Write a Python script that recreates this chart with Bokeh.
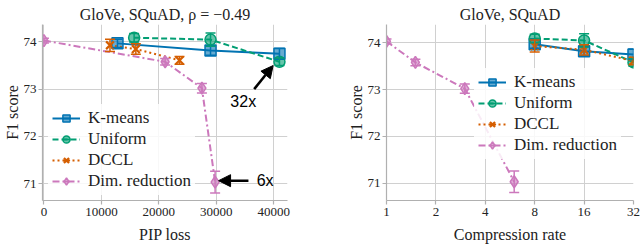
import numpy as np
from bokeh.plotting import figure
from bokeh.layouts import row
from bokeh.models import (ColumnDataSource, Whisker, TeeHead, Arrow, NormalHead, Label,
                          Legend, LegendItem, Range1d, FixedTicker, PrintfTickFormatter)
from bokeh.embed import file_html
from bokeh.resources import INLINE

# ---------------- data ----------------
methods = ["K-means", "Uniform", "DCCL", "Dim. reduction"]

kmeans_pip = [12800, 29000, 41000]
kmeans_rate = [8, 16, 32]
kmeans_f1 = [73.97, 73.82, 73.75]
kmeans_err = [0.09, 0.10, 0.11]

uniform_pip = [15700, 29000, 41000]
uniform_rate = [8, 16, 32]
uniform_f1 = [74.09, 74.05, 73.58]
uniform_err = [0.09, 0.14, 0.08]

dccl_pip = [11500, 16000, 23600]
dccl_rate = [8, 16, 32]
dccl_f1 = [73.93, 73.85, 73.61]
dccl_err = [0.13, 0.11, 0.08]

dim_pip = [0, 21100, 27500, 29800]
dim_rate = [1, 1.5, 3, 6]
dim_f1 = [74.03, 73.58, 73.02, 71.03]
dim_err = [0.05, 0.07, 0.10, 0.23]

pip_ticks = [0, 10000, 20000, 30000, 40000]
rate_ticks = [1, 2, 4, 8, 16, 32]
f1_ticks = [71, 72, 73, 74]

# annotations (left panel): text, text position, arrow start, arrow end
ann_text = ["32x", "6x"]
ann_text_x = [34700, 38500]
ann_text_y = [72.73, 71.06]
ann_arrow_x0 = [36600, 35600]
ann_arrow_y0 = [73.0, 71.06]
ann_arrow_x1 = [39900, 30400]
ann_arrow_y1 = [73.5, 71.06]

colors = ["#0173b2", "#029e73", "#d55e00", "#cc78bc"]
dashes = ["solid", "6 3", "2 3", "7 3 2 3"]
markers = ["square", "circle", "x", "diamond"]
msizes = [11, 11, 11, 12]

SERIF = "Liberation Serif"


def style(p, title):
    p.title.text = title
    p.title.align = "center"
    p.title.text_font = SERIF
    p.title.text_font_size = "16px"
    p.title.text_font_style = "normal"
    p.title.text_color = "#222222"
    p.title.standoff = 4
    p.outline_line_color = None
    p.background_fill_color = "white"
    for ax in (p.xaxis, p.yaxis):
        ax.axis_line_color = "#b0b0b0"
        ax.axis_line_width = 1.2
        ax.major_tick_line_color = "#b0b0b0"
        ax.major_tick_line_width = 1.2
        ax.major_tick_out = 4
        ax.major_tick_in = 0
        ax.minor_tick_line_color = None
        ax.major_label_text_font = SERIF
        ax.major_label_text_font_size = "13px"
        ax.major_label_text_color = "#222222"
        ax.axis_label_text_font = SERIF
        ax.axis_label_text_font_size = "16px"
        ax.axis_label_text_font_style = "normal"
        ax.axis_label_text_color = "#222222"
    p.xaxis.major_label_standoff = 3
    p.xaxis.axis_label_standoff = 7
    p.yaxis.major_label_standoff = 2
    p.yaxis.axis_label_standoff = 0
    p.grid.grid_line_color = "#d0d0d0"
    p.grid.grid_line_width = 1
    p.yaxis.axis_label = "F1 score"
    p.yaxis.ticker = FixedTicker(ticks=f1_ticks)


def draw(p, xs_list, far_x, legend_loc):
    items = []
    series = [kmeans_f1, uniform_f1, dccl_f1, dim_f1]
    errs = [kmeans_err, uniform_err, dccl_err, dim_err]
    for i, name in enumerate(methods):
        xs = xs_list[i]
        ys = series[i]
        e = errs[i]
        src = ColumnDataSource(dict(x=xs, y=ys,
                                    upper=[a + b for a, b in zip(ys, e)],
                                    lower=[a - b for a, b in zip(ys, e)]))
        c = colors[i]
        ln = p.line("x", "y", source=src, line_color=c, line_width=2, line_dash=dashes[i])
        w = Whisker(source=src, base="x", upper="upper", lower="lower",
                    line_color=c, line_width=1.5, level="glyph",
                    upper_head=TeeHead(size=10, line_color=c, line_width=1.5),
                    lower_head=TeeHead(size=10, line_color=c, line_width=1.5))
        p.add_layout(w)
        sc = p.scatter("x", "y", source=src, marker=markers[i], size=msizes[i],
                       line_color=c, fill_color=c, fill_alpha=0.6,
                       line_width=2.2 if markers[i] == "x" else 1.5)
        # legend-only vertical error bar glyph (placed outside the visible range)
        eb = p.scatter(x=[far_x], y=[0], marker="dash", angle=np.pi / 2, size=16,
                       line_color=c, line_width=1.5)
        items.append(LegendItem(label=name, renderers=[ln, eb, sc]))
    leg = Legend(items=items, location=legend_loc)
    leg.label_text_font = SERIF
    leg.label_text_font_size = "17px"
    leg.label_text_color = "#222222"
    leg.glyph_width = 28
    leg.glyph_height = 18
    leg.label_height = 18
    leg.label_standoff = 8
    leg.spacing = 1
    leg.padding = 4
    leg.margin = 0
    leg.border_line_alpha = 0
    leg.background_fill_alpha = 0.85
    p.add_layout(leg)


# ---------------- left panel ----------------
p1 = figure(width=320, height=247, output_backend="svg", toolbar_location=None,
            x_range=Range1d(-250, 42400), y_range=Range1d(70.64, 74.37),
            min_border_left=37, min_border_right=33, min_border_top=22, min_border_bottom=47)
style(p1, "GloVe, SQuAD, ρ = −0.49")
p1.xaxis.axis_label = "PIP loss"
p1.xaxis.ticker = FixedTicker(ticks=pip_ticks)
p1.xaxis.formatter = PrintfTickFormatter(format="%d")
draw(p1, [kmeans_pip, uniform_pip, dccl_pip, dim_pip], -1e7, (6, 5))

for i, t in enumerate(ann_text):
    p1.add_layout(Arrow(end=NormalHead(size=12, fill_color="black", line_color="black"),
                        x_start=ann_arrow_x0[i], y_start=ann_arrow_y0[i],
                        x_end=ann_arrow_x1[i], y_end=ann_arrow_y1[i],
                        line_color="black", line_width=2.5))
    p1.add_layout(Label(x=ann_text_x[i], y=ann_text_y[i], text=t,
                        text_font="Liberation Sans", text_font_size="16px",
                        text_align="center", text_baseline="middle", text_color="black"))

# ---------------- right panel ----------------
p2 = figure(width=320, height=247, output_backend="svg", toolbar_location=None,
            x_axis_type="log", x_range=Range1d(1, 32), y_range=Range1d(70.63, 74.39),
            min_border_left=66, min_border_right=7, min_border_top=24, min_border_bottom=44)
style(p2, "GloVe, SQuAD")
p2.xaxis.axis_label = "Compression rate"
p2.xaxis.ticker = FixedTicker(ticks=rate_ticks)
p2.xaxis.formatter = PrintfTickFormatter(format="%d")
draw(p2, [kmeans_rate, uniform_rate, dccl_rate, dim_rate], 1e-4, (88, 41))

layout = row(p1, p2)
open("out.html", "w").write(file_html(layout, INLINE))
